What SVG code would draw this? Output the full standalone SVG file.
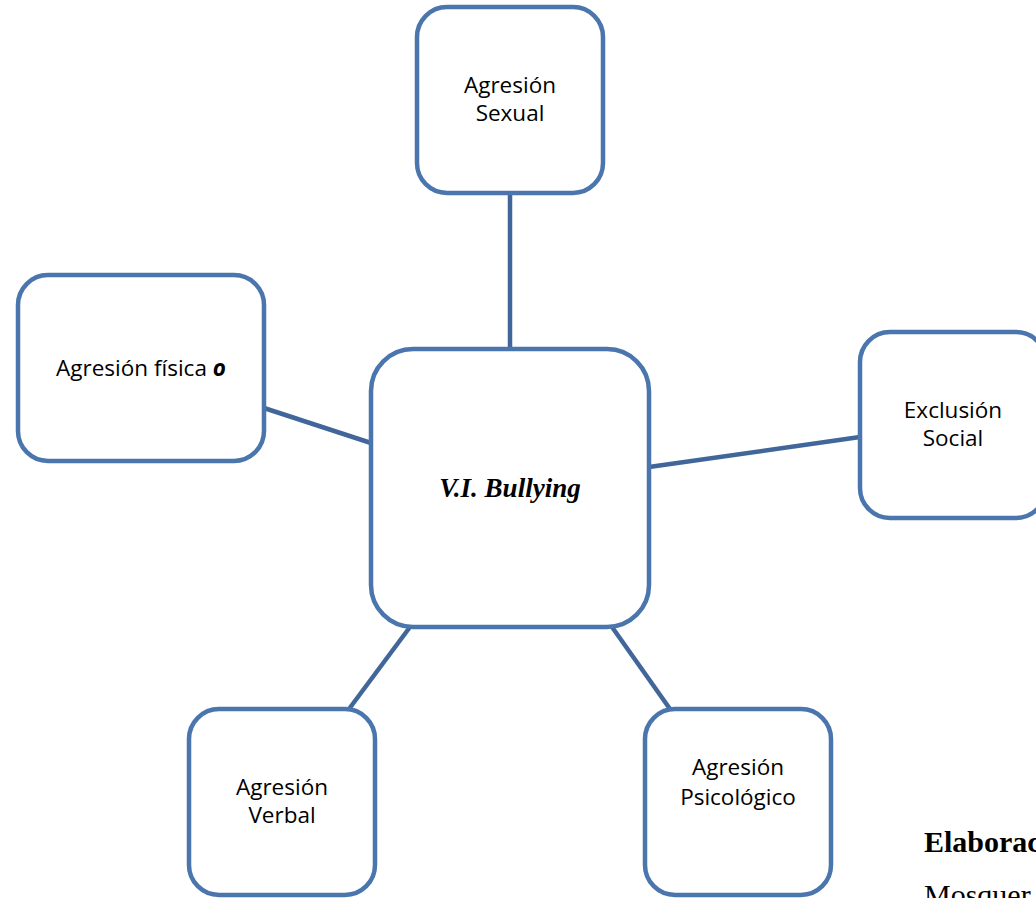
<svg xmlns="http://www.w3.org/2000/svg" width="1036" height="898" viewBox="0 0 1036 898">
<style>
.box{fill:#fff;stroke:#4a76ad;stroke-width:4.5}
.lbl{font-family:"Open Sans","Noto Sans",sans-serif;font-size:22.5px;fill:#000;text-anchor:middle}
.conn line{stroke:#41679a;stroke-width:4.5}
</style>
<rect width="1036" height="898" fill="#fff"/>
<g class="conn" id="connectors">
<line x1="510" y1="193" x2="510" y2="349"/>
<line x1="264" y1="408" x2="371" y2="443"/>
<line x1="649" y1="467" x2="860" y2="437"/>
<line x1="410" y1="627" x2="349" y2="709"/>
<line x1="612" y1="627" x2="670" y2="709"/>
</g>
<g id="center">
<rect class="box" x="371" y="349" width="278" height="278" rx="42"/>
<text x="510" y="497" font-family="'Liberation Serif',serif" font-size="27" font-weight="bold" font-style="italic" text-anchor="middle">V.I. Bullying</text>
</g>
<g id="sexual">
<rect class="box" x="417" y="7" width="186" height="186" rx="30"/>
<text class="lbl" x="510" y="93">Agresión</text>
<text class="lbl" x="510" y="121">Sexual</text>
</g>
<g id="fisica">
<rect class="box" x="18" y="275" width="246" height="186" rx="30"/>
<text class="lbl" x="141" y="376">Agresión física <tspan font-weight="bold" font-style="italic">o</tspan></text>
</g>
<g id="exclusion">
<rect class="box" x="860" y="332" width="186" height="186" rx="30"/>
<text class="lbl" x="953" y="418">Exclusión</text>
<text class="lbl" x="953" y="446">Social</text>
</g>
<g id="verbal">
<rect class="box" x="189" y="709" width="186" height="186" rx="30"/>
<text class="lbl" x="282" y="795">Agresión</text>
<text class="lbl" x="282" y="823">Verbal</text>
</g>
<g id="psicologico">
<rect class="box" x="645" y="709" width="186" height="186" rx="30"/>
<text class="lbl" x="738" y="775">Agresión</text>
<text class="lbl" x="738" y="805">Psicológico</text>
</g>
<text x="924" y="852" font-family="'Liberation Serif',serif" font-size="30" font-weight="bold">Elaborac</text>
<text x="924" y="905" font-family="'Liberation Serif',serif" font-size="30">Mosquer</text>
</svg>
